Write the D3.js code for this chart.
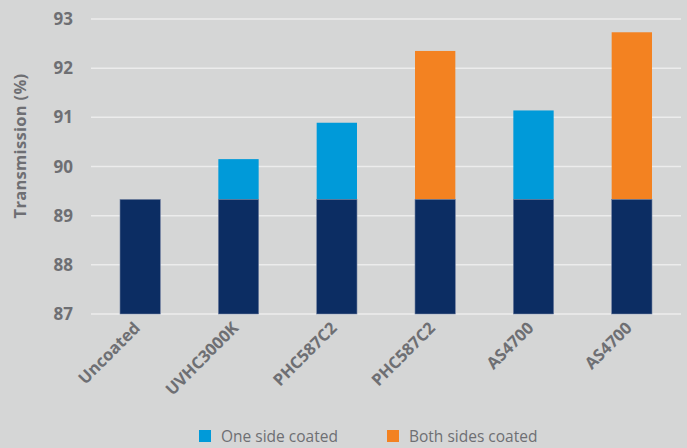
<!DOCTYPE html>
<html>
<head>
<meta charset="utf-8">
<script src="https://cdn.jsdelivr.net/npm/d3@7"></script>
<style>
  body { margin: 0; background: #d5d6d6; }
  svg { display: block; font-family: "Open Sans", Lato, sans-serif; }
</style>
</head>
<body>
<svg id="chart" width="687" height="448"></svg>
<script>
// data
var categories = ["Uncoated", "UVHC3000K", "PHC587C2", "PHC587C2 ", "AS4700", "AS4700 "];
var baseValues = [89.33, 89.33, 89.33, 89.33, 89.33, 89.33];
var totalValues = [89.33, 90.15, 90.89, 92.35, 91.14, 92.73];
var coatType = ["none", "one", "one", "both", "one", "both"];
var yTicks = [87, 88, 89, 90, 91, 92, 93];
var legendItems = ["One side coated", "Both sides coated"];

var colors = { base: "#0c2d63", one: "#009ad9", both: "#f38221" };
var textColor = "#6e6f73";

var margin = {top: 19, right: 6, bottom: 134, left: 91},
    width = 687 - margin.left - margin.right,
    height = 448 - margin.top - margin.bottom;

var svg = d3.select("#chart");
var g = svg.append("g").attr("transform", "translate(" + margin.left + "," + margin.top + ")");

var x = d3.scaleBand()
    .domain(categories)
    .range([0, 590])
    .paddingInner(0.59)
    .paddingOuter(0.295);

var y = d3.scaleLinear()
    .domain([87, 93])
    .range([height, 0]);

// gridlines
g.append("g")
    .selectAll("line")
    .data(yTicks)
  .enter().append("line")
    .attr("x1", 0)
    .attr("x2", width)
    .attr("y1", function(d) { return y(d); })
    .attr("y2", function(d) { return y(d); })
    .style("stroke", "#ececec")
    .style("stroke-width", 1.5);

// y tick labels
g.append("g")
    .selectAll("text")
    .data(yTicks)
  .enter().append("text")
    .attr("x", -18)
    .attr("y", function(d) { return y(d); })
    .attr("dy", "0.36em")
    .attr("text-anchor", "end")
    .style("font-size", "17px")
    .style("font-weight", "bold")
    .style("fill", textColor)
    .text(function(d) { return d; });

// y title
svg.append("text")
    .attr("transform", "translate(26,146) rotate(-90)")
    .attr("text-anchor", "middle")
    .style("font-size", "16.5px")
    .style("font-weight", "bold")
    .style("letter-spacing", "0.3px")
    .style("fill", textColor)
    .text("Transmission (%)");

// coated top segments
g.append("g")
    .selectAll("rect")
    .data(categories)
  .enter().append("rect")
    .filter(function(d, i) { return coatType[i] != "none"; })
    .attr("x", function(d) { return x(d); })
    .attr("width", x.bandwidth())
    .attr("y", function(d) { var i = categories.indexOf(d); return y(totalValues[i]); })
    .attr("height", function(d) { var i = categories.indexOf(d); return y(baseValues[i]) - y(totalValues[i]); })
    .style("fill", function(d) { return colors[coatType[categories.indexOf(d)]]; });

// uncoated base
g.append("g")
    .selectAll("rect")
    .data(categories)
  .enter().append("rect")
    .attr("x", function(d) { return x(d); })
    .attr("width", x.bandwidth())
    .attr("y", function(d, i) { return y(baseValues[i]); })
    .attr("height", function(d, i) { return height - y(baseValues[i]); })
    .style("fill", colors.base)
    .style("stroke", "#6f7f9f")
    .style("stroke-width", 0.6);

// x labels
g.append("g")
    .selectAll("text")
    .data(categories)
  .enter().append("text")
    .attr("transform", function(d) {
      return "translate(" + (x(d) + x.bandwidth() / 2 - 3) + "," + (height + 11) + ") rotate(-45)";
    })
    .attr("text-anchor", "end")
    .attr("dy", "0.35em")
    .style("font-size", "16.5px")
    .style("font-weight", "bold")
    .style("fill", textColor)
    .text(function(d) { return d.trim(); });

// legend
var legend = svg.append("g")
    .selectAll("g")
    .data(legendItems)
  .enter().append("g")
    .attr("transform", function(d, i) { return "translate(" + (199 + i * 188) + ",430)"; });

legend.append("rect")
    .attr("width", 12)
    .attr("height", 12)
    .style("fill", function(d, i) { return i == 0 ? colors.one : colors.both; });

legend.append("text")
    .attr("x", 22)
    .attr("y", 12)
    .style("font-size", "15.5px")
    .style("fill", textColor)
    .text(function(d) { return d; });
</script>
</body>
</html>
